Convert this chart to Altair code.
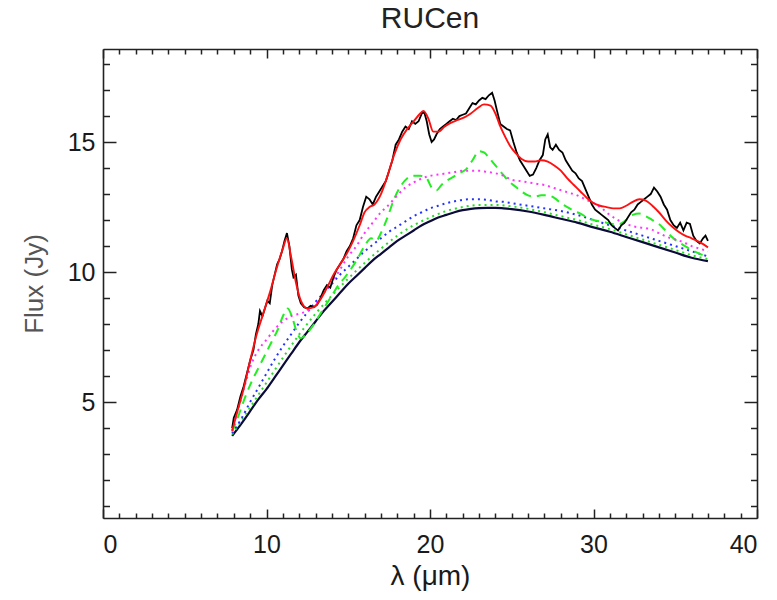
import altair as alt
import pandas as pd

# ---------------- data ----------------
obs_x = [7.9, 8.0, 8.2, 8.4, 8.6, 8.8, 9.0, 9.2, 9.35, 9.5, 9.6, 9.75, 9.9, 10.05, 10.2, 10.35, 10.5, 10.65,
         10.8, 10.95, 11.1, 11.25, 11.4, 11.55, 11.65, 11.8, 11.95, 12.1, 12.3, 12.5, 12.7, 12.9, 13.1, 13.3,
         13.5, 13.7, 13.9, 14.1, 14.3, 14.5, 14.7, 14.9, 15.1, 15.3, 15.5, 15.7, 15.9, 16.1, 16.3, 16.5, 16.7,
         16.9, 17.1, 17.3, 17.5, 17.7, 17.9, 18.1, 18.3, 18.5, 18.7, 18.9, 19.1, 19.3, 19.5, 19.65, 19.8, 19.95,
         20.1, 20.25, 20.4, 20.6, 20.8, 21.0, 21.2, 21.4, 21.6, 21.8, 22.0, 22.2, 22.4, 22.6, 22.8, 23.0, 23.2,
         23.4, 23.6, 23.8, 23.95, 24.1, 24.3, 24.5, 24.7, 24.9, 25.1, 25.3, 25.5, 25.7, 25.9, 26.1, 26.3, 26.5,
         26.7, 26.9, 27.05, 27.2, 27.35, 27.5, 27.7, 27.9, 28.1, 28.3, 28.5, 28.7, 28.9, 29.1, 29.3, 29.5, 29.7,
         29.9, 30.1, 30.3, 30.5, 30.7, 30.9, 31.1, 31.3, 31.5, 31.7, 31.9, 32.1, 32.3, 32.5, 32.7, 32.9, 33.1,
         33.3, 33.5, 33.7, 33.9, 34.1, 34.3, 34.5, 34.7, 34.9, 35.1, 35.3, 35.5, 35.7, 35.9, 36.1, 36.3, 36.5,
         36.7, 36.85, 37.0]
obs_y = [4.0, 4.4, 4.7, 5.2, 5.6, 6.1, 6.6, 7.0, 7.6, 8.0, 8.5, 8.3, 8.6, 8.9, 8.8, 9.5, 9.9, 10.3,
         10.5, 10.8, 11.2, 11.5, 11.0, 10.1, 9.8, 9.9, 9.1, 8.8, 8.65, 8.6, 8.7, 8.65, 8.75, 9.0,
         9.3, 9.5, 9.4, 9.8, 10.1, 10.3, 10.5, 10.8, 11.0, 11.3, 11.8, 12.0, 12.5, 12.9, 12.8, 12.6, 12.9,
         13.1, 13.3, 13.5, 13.9, 14.3, 14.9, 15.1, 15.4, 15.6, 15.5, 15.8, 15.7, 15.8, 16.1, 16.15, 15.8, 15.3,
         15.0, 15.1, 15.3, 15.5, 15.6, 15.7, 15.8, 15.9, 15.85, 16.0, 16.05, 16.1, 16.3, 16.5, 16.45, 16.6, 16.7,
         16.65, 16.8, 16.9, 16.6, 16.2, 15.7, 15.6, 15.5, 15.45, 15.0, 14.6, 14.3, 14.1, 13.9, 13.7, 13.75, 14.0,
         14.3, 14.5, 15.1, 15.3, 14.8, 14.7, 14.9, 14.7, 14.6, 14.3, 14.1, 13.9, 13.8, 13.6, 13.5, 13.2, 12.9,
         12.6, 12.4, 12.3, 12.2, 12.1, 12.0, 11.8, 11.7, 11.6, 11.8, 11.9, 12.1, 12.3, 12.4, 12.6, 12.7, 12.8,
         12.9, 13.0, 13.25, 13.1, 12.9, 12.6, 12.4, 12.0, 11.8, 11.7, 11.9, 11.6, 11.9, 11.85, 11.4, 11.2, 11.1,
         11.3, 11.4, 11.2]

model_x = [7.9, 8.2, 8.6, 9.0, 9.4, 9.8, 10.2, 10.6, 11.0, 11.25, 11.5, 11.8, 12.1, 12.5, 12.9, 13.3, 13.7,
           14.1, 14.5, 14.9, 15.3, 15.7, 16.0, 16.3, 16.6, 17.0, 17.4, 17.8, 18.2, 18.6, 19.0, 19.4, 19.6,
           19.9, 20.2, 20.5, 20.9, 21.3, 21.7, 22.1, 22.5, 22.9, 23.3, 23.7, 24.0, 24.3, 24.6, 24.9, 25.2,
           25.6, 26.0, 26.4, 26.8, 27.2, 27.6, 28.0, 28.4, 28.8, 29.2, 29.6, 30.0, 30.4, 30.8, 31.2, 31.6,
           32.0, 32.4, 32.8, 33.2, 33.6, 34.0, 34.4, 34.8, 35.2, 35.6, 36.0, 36.5, 37.0]
model_y = [3.9, 4.6, 5.5, 6.6, 7.6, 8.4, 9.2, 10.1, 10.9, 11.3, 10.6, 9.6, 8.9, 8.6, 8.65, 8.95, 9.4,
           9.9, 10.3, 10.7, 11.2, 11.8, 12.3, 12.5, 12.6, 13.0, 13.7, 14.5, 15.1, 15.5, 15.8, 16.1, 16.2,
           15.9, 15.4, 15.4, 15.6, 15.75, 15.85, 15.95, 16.1, 16.3, 16.45, 16.4, 16.1, 15.6, 15.2, 14.85, 14.6,
           14.35, 14.25, 14.25, 14.3, 14.25, 14.1, 13.9, 13.6, 13.35, 13.1, 12.85, 12.65, 12.55, 12.5, 12.45, 12.45,
           12.55, 12.7, 12.8, 12.75, 12.55, 12.3, 12.0, 11.75, 11.55, 11.4, 11.3, 11.15, 10.95]

magenta_x = [7.9, 8.3, 8.7, 9.1, 9.5, 10.0, 10.5, 11.0, 11.5, 12.0, 12.5, 13.0, 13.5, 14.0, 14.5, 15.0,
             15.5, 16.0, 16.5, 17.0, 17.5, 18.0, 18.5, 19.0, 19.5, 20.0, 20.5, 21.0, 21.5, 22.0, 22.5, 23.0,
             23.5, 24.0, 24.5, 25.0, 25.5, 26.0, 26.5, 27.0, 27.5, 28.0, 28.5, 29.0, 29.5, 30.0, 30.5, 31.0,
             31.5, 32.0, 32.5, 33.0, 33.5, 34.0, 34.5, 35.0, 35.5, 36.0, 36.5, 37.0]
magenta_y = [3.9, 4.8, 5.7, 6.5, 7.0, 7.4, 7.8, 8.1, 8.3, 8.4, 8.5, 8.75, 9.2, 9.6, 10.1, 10.6,
             11.0, 11.5, 11.9, 12.3, 12.6, 12.95, 13.25, 13.45, 13.6, 13.7, 13.75, 13.8, 13.85, 13.9, 13.9, 13.9,
             13.85, 13.8, 13.7, 13.55, 13.5, 13.45, 13.4, 13.35, 13.25, 13.15, 13.05, 12.95, 12.8, 12.65, 12.45, 12.2,
             12.0, 11.85, 11.75, 11.7, 11.65, 11.5, 11.35, 11.25, 11.15, 11.0, 10.9, 10.8]

gdash_x = [7.9, 8.3, 8.7, 9.1, 9.5, 9.9, 10.3, 10.7, 11.0, 11.3, 11.6, 11.85, 12.1, 12.4, 12.8, 13.2, 13.6,
           14.0, 14.4, 14.8, 15.2, 15.6, 16.0, 16.4, 16.7, 17.0, 17.4, 17.8, 18.2, 18.6, 19.0, 19.4, 19.8,
           20.1, 20.4, 20.7, 21.0, 21.4, 21.8, 22.2, 22.6, 23.0, 23.3, 23.6, 24.0, 24.4, 24.8, 25.2, 25.6,
           26.0, 26.4, 26.8, 27.2, 27.6, 28.0, 28.4, 28.8, 29.2, 29.6, 30.0, 30.4, 30.8, 31.2, 31.6, 32.0,
           32.4, 32.8, 33.2, 33.6, 34.0, 34.4, 34.8, 35.2, 35.6, 36.0, 36.5, 37.0]
gdash_y = [3.85, 4.5, 5.2, 5.8, 6.3, 6.8, 7.3, 7.8, 8.3, 8.6, 8.2, 7.7, 7.45, 7.6, 7.9, 8.3, 8.7,
           9.1, 9.5, 9.8, 10.15, 10.55, 11.0, 11.3, 11.2, 11.5, 12.1, 12.8, 13.3, 13.6, 13.7, 13.7, 13.6,
           13.25, 13.15, 13.35, 13.5, 13.65, 13.8, 13.95, 14.3, 14.65, 14.6, 14.4, 14.1, 13.8, 13.5, 13.3, 13.1,
           12.95, 12.9, 12.95, 12.95, 12.85, 12.65, 12.5, 12.35, 12.25, 12.1, 12.0, 11.95, 11.9, 11.85, 11.85, 12.0,
           12.2, 12.25, 12.15, 12.0, 11.85, 11.6, 11.35, 11.15, 11.0, 10.85, 10.7, 10.6]

blue_x = [7.9, 8.5, 9.0, 9.5, 10.0, 10.5, 11.0, 11.5, 12.0, 12.5, 13.0, 13.5, 14.0, 14.5, 15.0, 15.5,
          16.0, 16.5, 17.0, 17.5, 18.0, 18.5, 19.0, 19.5, 20.0, 20.5, 21.0, 21.5, 22.0, 22.5, 23.0, 23.5,
          24.0, 24.5, 25.0, 26.0, 27.0, 28.0, 29.0, 30.0, 31.0, 32.0, 33.0, 34.0, 35.0, 36.0, 37.0]
blue_y = [3.8, 4.4, 5.0, 5.55, 6.1, 6.65, 7.15, 7.6, 8.05, 8.45, 8.85, 9.2, 9.55, 9.9, 10.2, 10.5,
          10.8, 11.05, 11.3, 11.55, 11.75, 11.95, 12.15, 12.3, 12.45, 12.55, 12.65, 12.72, 12.78, 12.8, 12.8, 12.78,
          12.72, 12.7, 12.65, 12.55, 12.45, 12.35, 12.2, 12.0, 11.8, 11.6, 11.4, 11.2, 11.0, 10.8, 10.6]

gdot_x = [7.9, 9.0, 10.0, 11.0, 12.0, 13.0, 14.0, 15.0, 16.0, 17.0, 18.0, 19.0, 20.0, 21.0, 22.0, 23.0,
          24.0, 25.0, 26.0, 27.0, 28.0, 29.0, 30.0, 31.0, 32.0, 33.0, 34.0, 35.0, 36.0, 37.0]
gdot_y = [3.75, 4.8, 5.75, 6.7, 7.6, 8.4, 9.1, 9.75, 10.35, 10.9, 11.4, 11.8, 12.1, 12.35, 12.5, 12.58,
          12.58, 12.53, 12.43, 12.3, 12.15, 12.0, 11.82, 11.65, 11.45, 11.25, 11.05, 10.85, 10.65, 10.5]

cont_x = [7.9, 8.5, 9.0, 9.5, 10.0, 10.5, 11.0, 11.5, 12.0, 12.5, 13.0, 13.5, 14.0, 14.5, 15.0, 15.5,
          16.0, 16.5, 17.0, 17.5, 18.0, 18.5, 19.0, 19.5, 20.0, 20.5, 21.0, 21.5, 22.0, 22.5, 23.0, 23.5,
          24.0, 24.5, 25.0, 26.0, 27.0, 28.0, 29.0, 30.0, 31.0, 32.0, 33.0, 34.0, 35.0, 36.0, 37.0]
cont_y = [3.7, 4.2, 4.65, 5.1, 5.5, 5.95, 6.4, 6.85, 7.3, 7.7, 8.1, 8.5, 8.85, 9.2, 9.55, 9.85,
          10.15, 10.45, 10.7, 10.95, 11.2, 11.4, 11.6, 11.8, 11.95, 12.1, 12.2, 12.3, 12.38, 12.43, 12.46, 12.47,
          12.47, 12.45, 12.42, 12.33, 12.2, 12.05, 11.9, 11.72, 11.55, 11.35, 11.15, 10.95, 10.75, 10.55, 10.42]

x_major = [0, 10, 20, 30, 40]
x_minor = list(range(0, 41))
y_major = [5, 10, 15]
y_minor = list(range(1, 19))

# ---------------- layout ----------------
W, H = 654, 469
XDOM = [0, 40]
YDOM = [0.54, 18.58]
FONT = "Liberation Sans"
INK = "#1a1a1a"


def xenc(axis):
    return alt.X("x:Q", scale=alt.Scale(domain=XDOM, nice=False, zero=False), axis=axis)


def yenc(axis):
    return alt.Y("y:Q", scale=alt.Scale(domain=YDOM, nice=False, zero=False), axis=axis)


def line(xv, yv, color, width, dash=None, interp="linear"):
    df = pd.DataFrame({"x": xv, "y": yv})
    kw = dict(color=color, strokeWidth=width, interpolate=interp, clip=True)
    if dash:
        kw["strokeDash"] = dash
    return alt.Chart(df).mark_line(**kw).encode(x=xenc(None), y=yenc(None))


carrier_df = pd.DataFrame({"x": cont_x, "y": cont_y})

# labels and titles (no ticks)
axis_labels = alt.Chart(carrier_df).mark_point(opacity=0).encode(
    x=xenc(alt.Axis(orient="bottom", values=x_major, ticks=False, domain=False, grid=False,
                    labelFont=FONT, labelFontSize=25, labelColor=INK, labelPadding=14,
                    title="λ (μm)", titleFont=FONT, titleFontSize=28, titleFontWeight="normal",
                    titleColor=INK, titlePadding=5, format="d")),
    y=yenc(alt.Axis(orient="left", values=y_major, ticks=False, domain=False, grid=False,
                    labelFont=FONT, labelFontSize=25, labelColor=INK, labelPadding=8,
                    title="Flux (Jy)", titleFont=FONT, titleFontSize=26, titleFontWeight="normal",
                    titleColor="#555", titlePadding=20, format="d")),
)

x_tick_size = {"condition": {"test": "datum.value % 10 === 0", "value": 9}, "value": 5}
y_tick_size = {"condition": {"test": "datum.value % 5 === 0", "value": 13}, "value": 6.5}
tick_common = dict(domain=True, domainColor="#222", domainWidth=1.6, grid=False, labels=False,
                   title="", tickColor="#222", tickWidth=1.5)

# inward ticks (and frame line) on bottom and left
ticks_bl = alt.Chart(carrier_df).mark_point(opacity=0).encode(
    x=xenc(alt.Axis(orient="top", offset=-H, values=x_minor, tickSize=x_tick_size, **tick_common)),
    y=yenc(alt.Axis(orient="right", offset=-W, values=y_minor, tickSize=y_tick_size, **tick_common)),
)
# inward ticks (and frame line) on top and right
ticks_tr = alt.Chart(carrier_df).mark_point(opacity=0).encode(
    x=xenc(alt.Axis(orient="bottom", offset=-H, values=x_minor, tickSize=x_tick_size, **tick_common)),
    y=yenc(alt.Axis(orient="left", offset=-W, values=y_minor, tickSize=y_tick_size, **tick_common)),
)

layers = [
    line(cont_x, cont_y, "#0b0b3a", 2.2, interp="monotone"),
    line(gdot_x, gdot_y, "#22dd22", 2, dash=[2, 4], interp="monotone"),
    line(blue_x, blue_y, "#2233ff", 2, dash=[2, 4], interp="monotone"),
    line(gdash_x, gdash_y, "#22ee22", 2, dash=[9, 6], interp="monotone"),
    line(magenta_x, magenta_y, "#ff33ff", 2, dash=[2, 4], interp="monotone"),
    line(obs_x, obs_y, "#000000", 1.8),
    line(model_x, model_y, "#ff1010", 1.9, interp="monotone"),
    axis_labels,
    ticks_bl,
    ticks_tr,
]

chart = (
    alt.layer(*layers)
    .resolve_scale(x="independent", y="independent")
    .properties(
        width=W,
        height=H,
        title=alt.TitleParams("RUCen", font=FONT, fontSize=30, fontWeight="normal", color="#222",
                              anchor="middle", offset=14),
        autosize=alt.AutoSizeParams(type="none"),
        padding={"left": 103, "top": 49, "right": 20, "bottom": 82},
    )
    .configure_view(stroke="#222", strokeWidth=1.5)
    .configure(background="white")
)

chart.save("out.html", embed_options={"renderer": "svg", "actions": False})
